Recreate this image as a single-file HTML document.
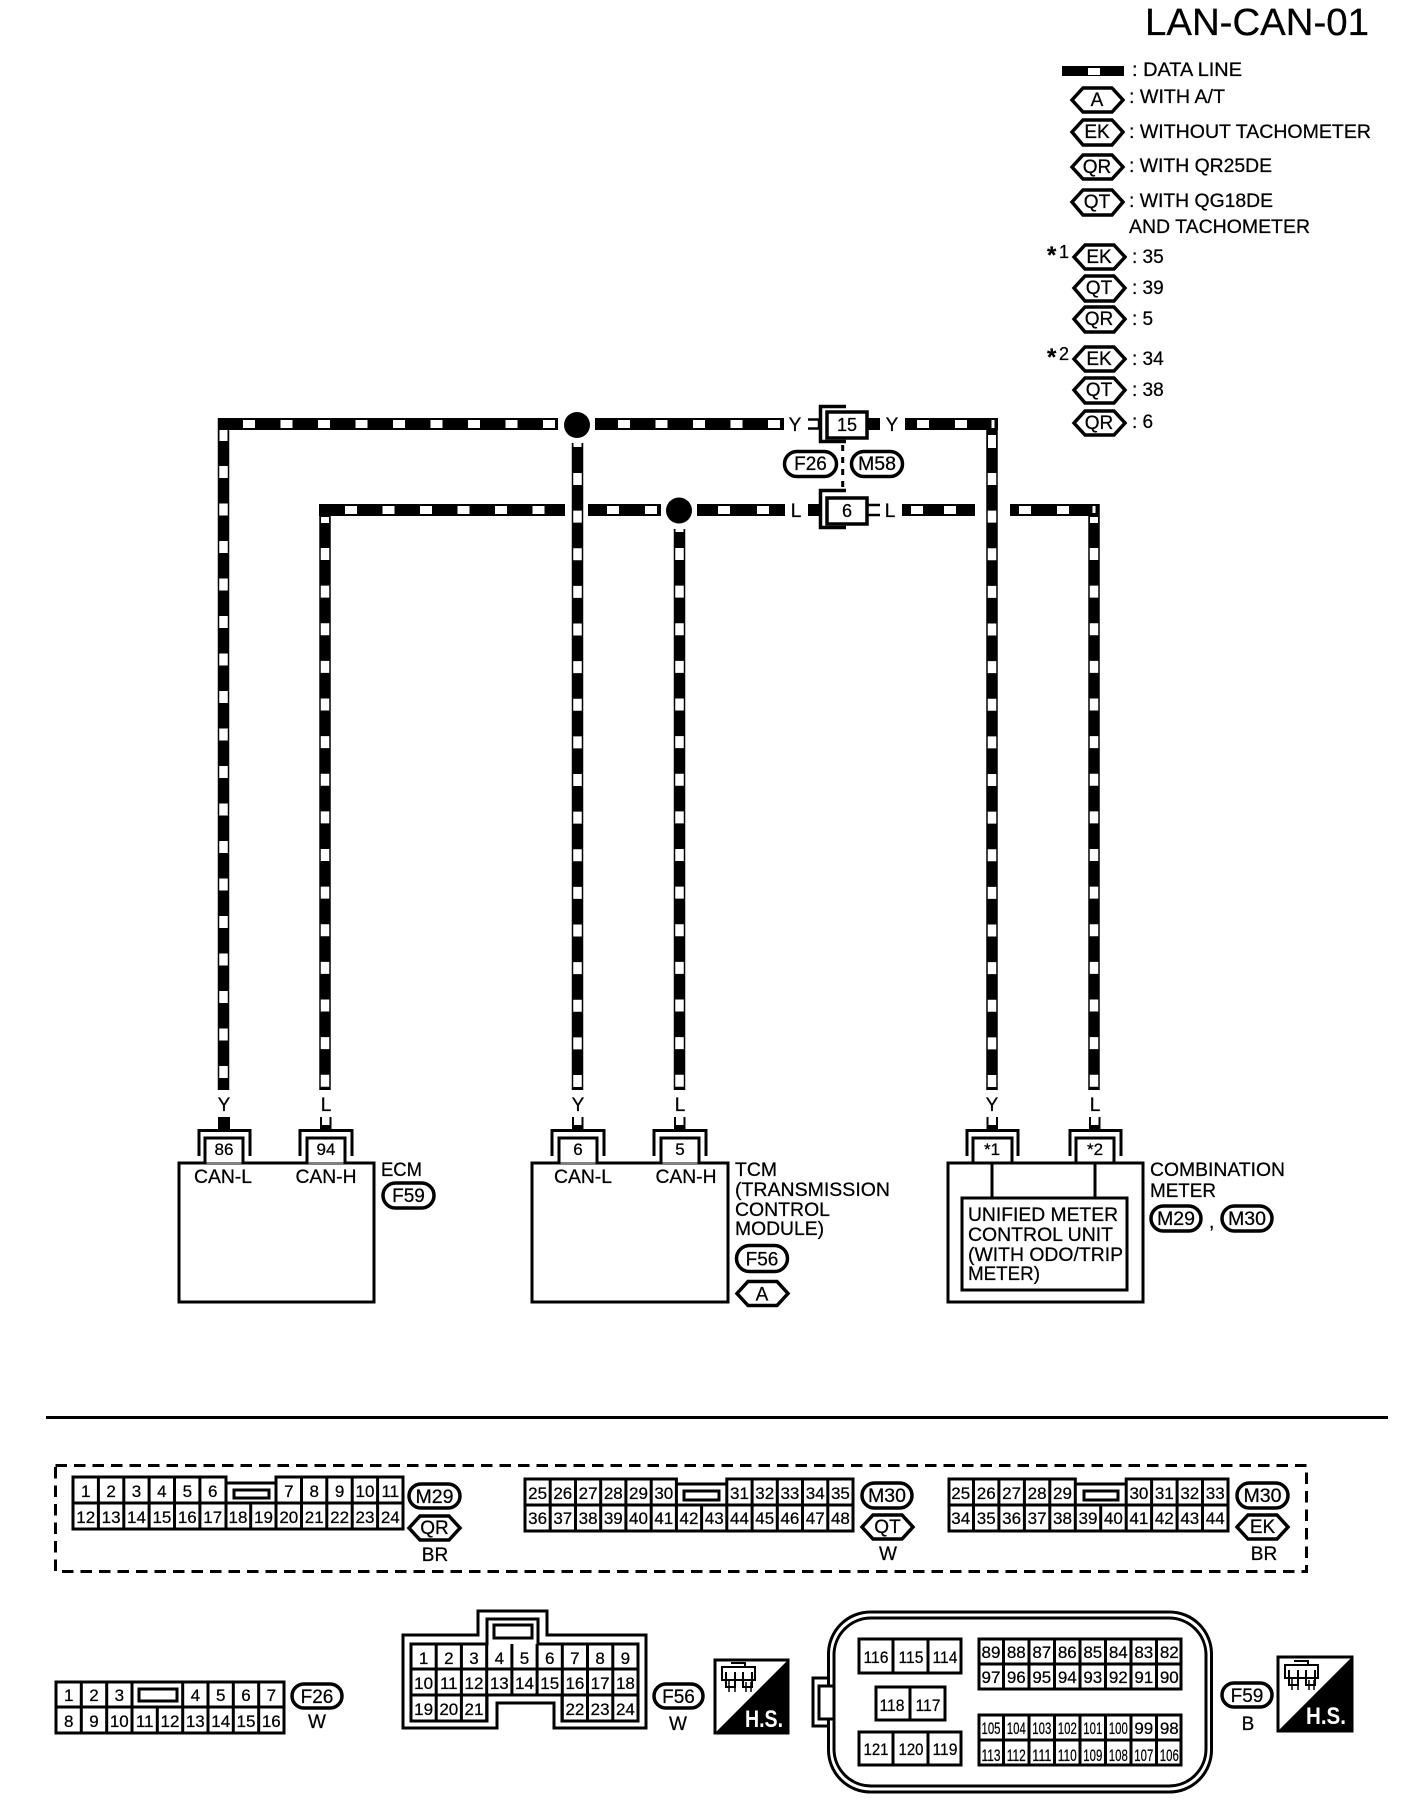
<!DOCTYPE html>
<html><head><meta charset="utf-8"><title>LAN-CAN-01</title>
<style>
html,body{margin:0;padding:0;background:#fff}
svg{display:block;font-family:"Liberation Sans",Arial,sans-serif}
text{fill:#000;font-size:19px;stroke:#000;stroke-width:.25}
.m text,text.m{text-anchor:middle}
.n text{font-size:17px;text-anchor:middle}
.s{fill:none;stroke:#000;stroke-width:3}
.h{fill:#fff;stroke:#000;stroke-width:3.5}
polygon.s{stroke-width:3.5}
.w{stroke:#000;stroke-width:12;fill:none}
.v{stroke:#000;stroke-width:11.5;fill:none}
.wh{stroke:#fff;stroke-width:8;fill:none;stroke-dasharray:12 25.5}
.wv{stroke:#fff;stroke-width:8.5;fill:none;stroke-dasharray:12 25.625}
.wp{stroke:#fff;stroke-width:8;fill:none}
</style></head><body>
<svg width="1408" height="1806" viewBox="0 0 1408 1806" xmlns="http://www.w3.org/2000/svg">
<rect width="1408" height="1806" fill="#fff"/>
<text x="1145" y="35" style="font-size:38px" textLength="224" lengthAdjust="spacingAndGlyphs">LAN-CAN-01</text>

<!-- legend -->
<rect x="1062" y="66" width="62" height="10" fill="#000"/><rect x="1088" y="68" width="12" height="7" fill="#fff"/>
<text x="1132" y="76" textLength="110" lengthAdjust="spacingAndGlyphs">: DATA LINE</text>
<polygon class="s" points="1072,100 1083,88 1112,88 1123,100 1112,112 1083,112"/><text class="m" x="1097" y="106">A</text>
<text x="1129" y="103" textLength="96" lengthAdjust="spacingAndGlyphs">: WITH A/T</text>
<polygon class="s" points="1072,132 1083,120 1112,120 1123,132 1112,145 1083,145"/><text class="m" x="1097" y="138">EK</text>
<text x="1129" y="138" textLength="242" lengthAdjust="spacingAndGlyphs">: WITHOUT TACHOMETER</text>
<polygon class="s" points="1072,167 1083,155 1112,155 1123,167 1112,179 1083,179"/><text class="m" x="1097" y="173">QR</text>
<text x="1129" y="172" textLength="143" lengthAdjust="spacingAndGlyphs">: WITH QR25DE</text>
<polygon class="s" points="1072,202 1083,190 1112,190 1123,202 1112,215 1083,215"/><text class="m" x="1097" y="208">QT</text>
<text x="1129" y="207" textLength="144" lengthAdjust="spacingAndGlyphs">: WITH QG18DE</text>
<text x="1129" y="233" textLength="181" lengthAdjust="spacingAndGlyphs">AND TACHOMETER</text>

<text x="1047" y="263" style="font-size:24px;font-weight:bold">*</text><text x="1059" y="258" style="font-size:18px">1</text>
<polygon class="s" points="1074,257 1085,245 1114,245 1125,257 1114,269 1085,269"/><text class="m" x="1099" y="263">EK</text>
<text x="1132" y="263">: 35</text>
<polygon class="s" points="1074,288 1085,276 1114,276 1125,288 1114,301 1085,301"/><text class="m" x="1099" y="294">QT</text>
<text x="1132" y="294">: 39</text>
<polygon class="s" points="1074,319 1085,307 1114,307 1125,319 1114,332 1085,332"/><text class="m" x="1099" y="325">QR</text>
<text x="1132" y="325">: 5</text>
<text x="1047" y="365" style="font-size:24px;font-weight:bold">*</text><text x="1059" y="360" style="font-size:18px">2</text>
<polygon class="s" points="1074,359 1085,347 1114,347 1125,359 1114,371 1085,371"/><text class="m" x="1099" y="365">EK</text>
<text x="1132" y="365">: 34</text>
<polygon class="s" points="1074,390 1085,378 1114,378 1125,390 1114,403 1085,403"/><text class="m" x="1099" y="396">QT</text>
<text x="1132" y="396">: 38</text>
<polygon class="s" points="1074,423 1085,411 1114,411 1125,423 1114,435 1085,435"/><text class="m" x="1099" y="429">QR</text>
<text x="1132" y="428">: 6</text>

<!-- Y wires -->
<path class="w" d="M218,424H558"/><path class="v" d="M223.5,418V1090"/>
<path class="wh" d="M243,424H558"/><path class="wp" d="M223.5,430V441"/><path class="wv" style="stroke-dasharray:12 25.5" d="M223.5,466V1090"/>
<circle cx="577" cy="425" r="13" fill="#000"/>
<path class="w" d="M595,424H784"/><path class="wh" d="M618,424H784"/>
<path class="v" d="M577.5,443V1090"/><path class="wp" d="M577.5,443V447"/><path class="wv" d="M577.5,473V1090"/>
<path class="w" d="M905,424H998"/><path class="wp" d="M917,424H929M955,424H967"/>
<path class="v" d="M992,418V1090"/><path class="wp" style="stroke-width:3" d="M993,420V428"/><path class="wp" d="M992,435V448"/><path class="wv" d="M992,473V1090"/>
<!-- L wires -->
<path class="w" d="M319,510H565"/><path class="v" d="M325,504V1090"/>
<path class="wh" d="M345,510H545"/><path class="wp" d="M325,517V523"/><path class="wv" d="M325,548V1090"/>
<path class="w" d="M588,510H661"/><path class="wp" d="M607,510H619M645,510H657"/>
<circle cx="679" cy="510.5" r="13" fill="#000"/>
<path class="w" d="M697,510H785"/><path class="wp" d="M718,510H730M757,510H769"/>
<path class="v" d="M679.5,529V1090"/><path class="wp" d="M679.5,529V532"/><path class="wv" d="M679.5,548V1090"/>
<path class="w" d="M902,510H975M1010,510H1099"/><path class="wp" d="M911,510H923M944,510H956M1019,510H1031M1057,510H1069"/>
<path class="v" d="M1094,504V1090"/><path class="wp" style="stroke-width:3" d="M1094,506V513"/><path class="wp" d="M1094,517V523"/><path class="wv" d="M1094,548V1090"/>

<!-- connector 15 / 6 -->
<text class="m" x="795" y="431">Y</text>
<path d="M808,419.5H819V428.5H808" fill="none" stroke="#000" stroke-width="2.5"/>
<path d="M846,406.5H820.5V441.5H846" fill="none" stroke="#000" stroke-width="3.5"/>
<rect x="867" y="418" width="13" height="12" fill="#000"/>
<rect class="h" x="827" y="412" width="40" height="26"/>
<text class="m" x="847" y="431" style="font-size:18px">15</text>
<text class="m" x="892" y="431">Y</text>
<path d="M842.7,445V490" stroke="#000" stroke-width="3" stroke-dasharray="6 6" fill="none"/>
<rect class="h" x="784.5" y="451.5" width="52" height="25" rx="12.5"/><text class="m" x="810.5" y="470">F26</text>
<rect class="h" x="851.5" y="451.5" width="51" height="25" rx="12.5"/><text class="m" x="877" y="470" textLength="38" lengthAdjust="spacingAndGlyphs">M58</text>
<text class="m" x="796" y="517">L</text>
<rect x="808" y="504" width="12" height="12" fill="#000"/>
<path d="M846,490.5H820.5V527.5H846" fill="none" stroke="#000" stroke-width="3.5"/>
<path d="M880,505H867V515H880" fill="none" stroke="#000" stroke-width="2.5"/>
<rect class="h" x="827" y="498" width="40" height="26"/>
<text class="m" x="847" y="517" style="font-size:18px">6</text>
<text class="m" x="890" y="517">L</text>

<!-- lower wire labels & stubs -->
<g class="m">
<text x="224" y="1111">Y</text><text x="326" y="1111">L</text><text x="578" y="1111">Y</text><text x="680" y="1111">L</text><text x="992" y="1111">Y</text><text x="1095" y="1111">L</text>
</g>
<g fill="#000"><rect x="218" y="1117" width="12" height="13"/><rect x="320" y="1117" width="11.5" height="13"/><rect x="572" y="1117" width="11.5" height="13"/><rect x="674" y="1117" width="11.5" height="13"/><rect x="986.5" y="1117" width="11.5" height="13"/><rect x="1089" y="1117" width="11.5" height="13"/></g>
<g fill="#fff"><rect x="322" y="1117" width="7.5" height="8"/><rect x="574" y="1117" width="7.5" height="8"/><rect x="676" y="1117" width="7.5" height="8"/><rect x="988.5" y="1117" width="7.5" height="8"/><rect x="1091" y="1117" width="7.5" height="8"/></g>

<!-- ECM -->
<rect class="s" x="179" y="1163" width="195" height="139"/>
<path class="s" d="M199,1156V1130.5H250V1156M300,1156V1130.5H352V1156"/>
<path class="h" style="stroke-width:3" d="M205,1164V1138H243V1164M307,1164V1138H345V1164"/>
<path d="M205,1163H243M307,1163H345" stroke="#000" stroke-width="1" fill="none"/>
<g class="m"><text x="224" y="1155" style="font-size:17px">86</text><text x="326" y="1155" style="font-size:17px">94</text>
<text x="223" y="1183" textLength="58" lengthAdjust="spacingAndGlyphs">CAN-L</text><text x="326" y="1183" textLength="61" lengthAdjust="spacingAndGlyphs">CAN-H</text></g>
<text x="381" y="1176" textLength="41" lengthAdjust="spacingAndGlyphs">ECM</text>
<rect class="h" x="383" y="1183" width="51" height="25" rx="12.5"/><text class="m" x="408.5" y="1202">F59</text>

<!-- TCM -->
<rect class="s" x="532" y="1163" width="196" height="139"/>
<path class="s" d="M552,1156V1130.5H604V1156M654,1156V1130.5H706V1156"/>
<path class="h" style="stroke-width:3" d="M559,1164V1138H597V1164M661,1164V1138H699V1164"/>
<path d="M559,1163H597M661,1163H699" stroke="#000" stroke-width="1" fill="none"/>
<g class="m"><text x="578" y="1155" style="font-size:17px">6</text><text x="680" y="1155" style="font-size:17px">5</text>
<text x="583" y="1183" textLength="58" lengthAdjust="spacingAndGlyphs">CAN-L</text><text x="686" y="1183" textLength="61" lengthAdjust="spacingAndGlyphs">CAN-H</text></g>
<text x="735" y="1176" textLength="42" lengthAdjust="spacingAndGlyphs">TCM</text>
<text x="735" y="1196" textLength="155" lengthAdjust="spacingAndGlyphs">(TRANSMISSION</text>
<text x="735" y="1216" textLength="95" lengthAdjust="spacingAndGlyphs">CONTROL</text>
<text x="735" y="1235" textLength="89" lengthAdjust="spacingAndGlyphs">MODULE)</text>
<rect class="h" x="736.5" y="1248" width="51" height="26" rx="13" transform="translate(0,-2.5)"/><text class="m" x="762" y="1265.5">F56</text>
<polygon class="s" points="737,1293.5 748,1281.5 777,1281.5 788,1293.5 777,1305.5 748,1305.5"/><text class="m" x="762" y="1300.5">A</text>

<!-- Combination meter -->
<rect class="s" x="948" y="1163" width="195" height="139"/>
<path class="s" d="M967,1156V1130.5H1018V1156M1070,1156V1130.5H1121V1156"/>
<path class="h" style="stroke-width:3" d="M973,1164V1138H1012V1164M1076,1164V1138H1114V1164"/>
<path class="s" d="M973,1163H1012M1076,1163H1114M992,1162V1198M1095,1162V1198"/>
<rect class="s" x="962" y="1198" width="165" height="92"/>
<g class="m"><text x="992" y="1155" style="font-size:17px">*1</text><text x="1095" y="1155" style="font-size:17px">*2</text></g>
<text x="968" y="1221" textLength="150" lengthAdjust="spacingAndGlyphs">UNIFIED METER</text>
<text x="968" y="1241" textLength="145" lengthAdjust="spacingAndGlyphs">CONTROL UNIT</text>
<text x="968" y="1261" textLength="155" lengthAdjust="spacingAndGlyphs">(WITH ODO/TRIP</text>
<text x="968" y="1280" textLength="72" lengthAdjust="spacingAndGlyphs">METER)</text>
<text x="1150" y="1176" textLength="135" lengthAdjust="spacingAndGlyphs">COMBINATION</text>
<text x="1150" y="1197" textLength="66" lengthAdjust="spacingAndGlyphs">METER</text>
<rect class="h" x="1151" y="1206" width="50" height="25" rx="12.5"/><text class="m" x="1176" y="1225" textLength="38" lengthAdjust="spacingAndGlyphs">M29</text>
<text x="1209" y="1228">,</text>
<rect class="h" x="1222" y="1206" width="50" height="25" rx="12.5"/><text class="m" x="1247" y="1225" textLength="38" lengthAdjust="spacingAndGlyphs">M30</text>

<!-- separator & dashed -->
<path d="M46,1417.5H1388" stroke="#000" stroke-width="3" fill="none"/>
<rect x="55.5" y="1465.5" width="1251" height="106" fill="none" stroke="#000" stroke-width="3" stroke-dasharray="11.5 7"/>

<!-- M29 -->
<g transform="translate(1,0)">
<path class="s" d="M72,1477H225V1483H275V1477H402V1529H72ZM72,1503H402M97.4,1477V1529M122.8,1477V1529M148.1,1477V1529M173.5,1477V1529M198.9,1477V1529M225,1483V1529M249.7,1503V1529M275,1477V1529M300.5,1477V1529M325.8,1477V1529M351.2,1477V1529M376.6,1477V1529"/>
<rect class="s" x="233" y="1490" width="35" height="8"/>
<g class="n">
<text x="84.7" y="1497">1</text><text x="110.1" y="1497">2</text><text x="135.5" y="1497">3</text><text x="160.9" y="1497">4</text><text x="186.3" y="1497">5</text><text x="211.7" y="1497">6</text><text x="287.8" y="1497">7</text><text x="313.2" y="1497">8</text><text x="338.6" y="1497">9</text><text x="364" y="1497">10</text><text x="389.3" y="1497">11</text>
<text x="84.7" y="1523">12</text><text x="110.1" y="1523">13</text><text x="135.5" y="1523">14</text><text x="160.9" y="1523">15</text><text x="186.3" y="1523">16</text><text x="211.7" y="1523">17</text><text x="237" y="1523">18</text><text x="262.5" y="1523">19</text><text x="287.8" y="1523">20</text><text x="313.2" y="1523">21</text><text x="338.6" y="1523">22</text><text x="364" y="1523">23</text><text x="389.3" y="1523">24</text>
</g>
</g>
<rect class="h" x="409" y="1484" width="51" height="24" rx="12"/><text class="m" x="434.5" y="1503" textLength="38" lengthAdjust="spacingAndGlyphs">M29</text>
<polygon class="s" points="409,1528 420,1516 449,1516 460,1528 449,1540 420,1540"/><text class="m" x="434.5" y="1534">QR</text>
<text class="m" x="435" y="1561">BR</text>

<!-- M30 QT -->
<path class="s" d="M525,1479H676.4V1484H726.8V1479H853V1531H525ZM525,1505H853M550.2,1479V1531M575.5,1479V1531M600.7,1479V1531M625.9,1479V1531M651.2,1479V1531M676.4,1484V1531M701.6,1505V1531M726.8,1479V1531M752.1,1479V1531M777.3,1479V1531M802.5,1479V1531M827.8,1479V1531"/>
<rect class="s" x="684" y="1491" width="35" height="9"/>
<g class="n">
<text x="537.6" y="1499">25</text><text x="562.8" y="1499">26</text><text x="588.1" y="1499">27</text><text x="613.3" y="1499">28</text><text x="638.5" y="1499">29</text><text x="663.8" y="1499">30</text><text x="739.5" y="1499">31</text><text x="764.7" y="1499">32</text><text x="789.9" y="1499">33</text><text x="815.2" y="1499">34</text><text x="840.4" y="1499">35</text>
<text x="537.6" y="1524">36</text><text x="562.8" y="1524">37</text><text x="588.1" y="1524">38</text><text x="613.3" y="1524">39</text><text x="638.5" y="1524">40</text><text x="663.8" y="1524">41</text><text x="689" y="1524">42</text><text x="714.2" y="1524">43</text><text x="739.5" y="1524">44</text><text x="764.7" y="1524">45</text><text x="789.9" y="1524">46</text><text x="815.2" y="1524">47</text><text x="840.4" y="1524">48</text>
</g>
<rect class="h" x="862" y="1483" width="50" height="25" rx="12.5"/><text class="m" x="887" y="1502" textLength="38" lengthAdjust="spacingAndGlyphs">M30</text>
<polygon class="s" points="862,1527 873,1515 902,1515 913,1527 902,1539 873,1539"/><text class="m" x="887.5" y="1533">QT</text>
<text class="m" x="888" y="1560">W</text>

<!-- M30 EK -->
<path class="s" d="M949,1479H1075.3V1484H1126.2V1479H1228V1531H949ZM949,1505H1228M973.5,1479V1531M998.9,1479V1531M1024.4,1479V1531M1049.8,1479V1531M1075.3,1484V1531M1100.7,1505V1531M1126.2,1479V1531M1151.6,1479V1531M1177.1,1479V1531M1202.5,1479V1531"/>
<rect class="s" x="1084" y="1491" width="34" height="9"/>
<g class="n">
<text x="960.7" y="1499">25</text><text x="986.2" y="1499">26</text><text x="1011.6" y="1499">27</text><text x="1037.1" y="1499">28</text><text x="1062.5" y="1499">29</text><text x="1138.9" y="1499">30</text><text x="1164.3" y="1499">31</text><text x="1189.8" y="1499">32</text><text x="1215.2" y="1499">33</text>
<text x="960.7" y="1524">34</text><text x="986.2" y="1524">35</text><text x="1011.6" y="1524">36</text><text x="1037.1" y="1524">37</text><text x="1062.5" y="1524">38</text><text x="1088" y="1524">39</text><text x="1113.4" y="1524">40</text><text x="1138.9" y="1524">41</text><text x="1164.3" y="1524">42</text><text x="1189.8" y="1524">43</text><text x="1215.2" y="1524">44</text>
</g>
<rect class="h" x="1237" y="1483" width="51" height="25" rx="12.5"/><text class="m" x="1262.5" y="1502" textLength="38" lengthAdjust="spacingAndGlyphs">M30</text>
<polygon class="s" points="1237,1527 1248,1515 1277,1515 1288,1527 1277,1539 1248,1539"/><text class="m" x="1262.5" y="1533">EK</text>
<text class="m" x="1264" y="1560">BR</text>

<!-- F26 -->
<path class="s" d="M56,1682H284V1733H56ZM56,1707H284M81.3,1682V1733M106.7,1682V1733M132,1682V1733M157.3,1707V1733M182.7,1682V1733M208,1682V1733M233.3,1682V1733M258.7,1682V1733"/>
<rect class="s" x="139" y="1689" width="38" height="12"/>
<g class="n">
<text x="68.7" y="1701">1</text><text x="94" y="1701">2</text><text x="119.3" y="1701">3</text><text x="195.3" y="1701">4</text><text x="220.7" y="1701">5</text><text x="246" y="1701">6</text><text x="271.3" y="1701">7</text>
<text x="68.7" y="1727">8</text><text x="94" y="1727">9</text><text x="119.3" y="1727">10</text><text x="144.7" y="1727">11</text><text x="170" y="1727">12</text><text x="195.3" y="1727">13</text><text x="220.7" y="1727">14</text><text x="246" y="1727">15</text><text x="271.3" y="1727">16</text>
</g>
<rect class="h" x="292" y="1684" width="50" height="24" rx="12"/><text class="m" x="317" y="1703">F26</text>
<text class="m" x="317" y="1728">W</text>

<!-- F56 -->
<path class="s" d="M403,1635H478V1611H547V1635H646V1728H554V1703H497V1728H403Z"/>
<path class="s" d="M411,1644H487V1619H538V1644H638V1721H562V1695H487V1721H411ZM411,1669H638M411,1695H638M436.2,1644V1721M461.4,1644V1721M486.7,1644V1721M511.9,1644V1695M537.1,1644V1695M562.3,1644V1721M587.5,1644V1721M612.8,1644V1721"/>
<rect class="s" x="494" y="1625" width="38" height="13"/>
<g class="n">
<text x="423.6" y="1664">1</text><text x="448.8" y="1664">2</text><text x="474" y="1664">3</text><text x="499.3" y="1664">4</text><text x="524.5" y="1664">5</text><text x="549.7" y="1664">6</text><text x="574.9" y="1664">7</text><text x="600.1" y="1664">8</text><text x="625.4" y="1664">9</text>
<text x="423.6" y="1689">10</text><text x="448.8" y="1689">11</text><text x="474" y="1689">12</text><text x="499.3" y="1689">13</text><text x="524.5" y="1689">14</text><text x="549.7" y="1689">15</text><text x="574.9" y="1689">16</text><text x="600.1" y="1689">17</text><text x="625.4" y="1689">18</text>
<text x="423.6" y="1715">19</text><text x="448.8" y="1715">20</text><text x="474" y="1715">21</text><text x="574.9" y="1715">22</text><text x="600.1" y="1715">23</text><text x="625.4" y="1715">24</text>
</g>
<rect class="h" x="654" y="1684" width="49" height="24" rx="12"/><text class="m" x="678.5" y="1703">F56</text>
<text class="m" x="678" y="1730">W</text>

<!-- HS F56 -->
<rect x="715" y="1660" width="73" height="73" fill="#fff" stroke="#000" stroke-width="3"/>
<polygon points="789,1659 789,1734 714,1734" fill="#000"/>
<path d="M722,1667H755V1680H722ZM726,1672V1687H735V1672M743,1672V1687H752V1672M731,1663H745V1667" fill="none" stroke="#000" stroke-width="2"/>
<path d="M729,1680V1692M735,1682V1692M746,1682V1692M751,1682V1692" fill="none" stroke="#000" stroke-width="1.5"/>
<text x="745" y="1727" style="font-size:24px;font-weight:bold;fill:#fff;stroke:none" textLength="38" lengthAdjust="spacingAndGlyphs">H.S.</text>

<!-- F59 -->
<path class="s" d="M830,1678H813V1726H830"/>
<rect class="h" style="stroke-width:3" x="828.5" y="1612" width="383" height="180" rx="42"/>
<rect class="h" style="stroke-width:3" x="834" y="1618" width="372" height="168" rx="37"/>
<rect x="820" y="1687" width="12" height="31" fill="#fff"/>
<path class="s" d="M834,1686H819V1719H834"/>
<path class="s" d="M859,1639H961V1673H859ZM893,1639V1673M928,1639V1673M876,1687H945V1720H876ZM910,1687V1720M859,1732H961V1765H859ZM893,1732V1765M928,1732V1765"/>
<path class="s" d="M979,1639H1181V1689H979ZM979,1664H1181M1003.5,1639V1689M1029,1639V1689M1054.5,1639V1689M1080,1639V1689M1105.5,1639V1689M1131,1639V1689M1156.5,1639V1689"/>
<path class="s" d="M979,1715H1181V1765H979ZM979,1740H1181M1003.5,1715V1765M1029,1715V1765M1054.5,1715V1765M1080,1715V1765M1105.5,1715V1765M1131,1715V1765M1156.5,1715V1765"/>
<g class="n">
<text x="876" y="1663" textLength="25" lengthAdjust="spacingAndGlyphs">116</text><text x="911" y="1663" textLength="25" lengthAdjust="spacingAndGlyphs">115</text><text x="945" y="1663" textLength="25" lengthAdjust="spacingAndGlyphs">114</text>
<text x="892" y="1711" textLength="25" lengthAdjust="spacingAndGlyphs">118</text><text x="928" y="1711" textLength="25" lengthAdjust="spacingAndGlyphs">117</text>
<text x="876" y="1755" textLength="25" lengthAdjust="spacingAndGlyphs">121</text><text x="911" y="1755" textLength="25" lengthAdjust="spacingAndGlyphs">120</text><text x="945" y="1755" textLength="25" lengthAdjust="spacingAndGlyphs">119</text>
<text x="991" y="1658">89</text><text x="1016.3" y="1658">88</text><text x="1041.8" y="1658">87</text><text x="1067.3" y="1658">86</text><text x="1092.8" y="1658">85</text><text x="1118.3" y="1658">84</text><text x="1143.8" y="1658">83</text><text x="1169.3" y="1658">82</text>
<text x="991" y="1683">97</text><text x="1016.3" y="1683">96</text><text x="1041.8" y="1683">95</text><text x="1067.3" y="1683">94</text><text x="1092.8" y="1683">93</text><text x="1118.3" y="1683">92</text><text x="1143.8" y="1683">91</text><text x="1169.3" y="1683">90</text>
<text x="991" y="1734" textLength="19" lengthAdjust="spacingAndGlyphs">105</text><text x="1016.3" y="1734" textLength="19" lengthAdjust="spacingAndGlyphs">104</text><text x="1041.8" y="1734" textLength="19" lengthAdjust="spacingAndGlyphs">103</text><text x="1067.3" y="1734" textLength="19" lengthAdjust="spacingAndGlyphs">102</text><text x="1092.8" y="1734" textLength="19" lengthAdjust="spacingAndGlyphs">101</text><text x="1118.3" y="1734" textLength="19" lengthAdjust="spacingAndGlyphs">100</text><text x="1143.8" y="1734">99</text><text x="1169.3" y="1734">98</text>
<text x="991" y="1761" textLength="19" lengthAdjust="spacingAndGlyphs">113</text><text x="1016.3" y="1761" textLength="19" lengthAdjust="spacingAndGlyphs">112</text><text x="1041.8" y="1761" textLength="19" lengthAdjust="spacingAndGlyphs">111</text><text x="1067.3" y="1761" textLength="19" lengthAdjust="spacingAndGlyphs">110</text><text x="1092.8" y="1761" textLength="19" lengthAdjust="spacingAndGlyphs">109</text><text x="1118.3" y="1761" textLength="19" lengthAdjust="spacingAndGlyphs">108</text><text x="1143.8" y="1761" textLength="19" lengthAdjust="spacingAndGlyphs">107</text><text x="1169.3" y="1761" textLength="19" lengthAdjust="spacingAndGlyphs">106</text>
</g>
<rect class="h" x="1222" y="1683" width="50" height="24" rx="12"/><text class="m" x="1247" y="1702">F59</text>
<text class="m" x="1248" y="1730">B</text>

<!-- HS F59 -->
<rect x="1278" y="1657" width="74" height="74" fill="#fff" stroke="#000" stroke-width="3"/>
<polygon points="1353,1656 1353,1732 1277,1732" fill="#000"/>
<path d="M1285,1665H1318V1678H1285ZM1289,1670V1685H1298V1670M1306,1670V1685H1315V1670M1294,1661H1308V1665" fill="none" stroke="#000" stroke-width="2"/>
<path d="M1292,1678V1690M1298,1680V1690M1309,1680V1690M1314,1680V1690" fill="none" stroke="#000" stroke-width="1.5"/>
<text x="1306" y="1724" style="font-size:24px;font-weight:bold;fill:#fff;stroke:none" textLength="40" lengthAdjust="spacingAndGlyphs">H.S.</text>
</svg>
</body></html>
